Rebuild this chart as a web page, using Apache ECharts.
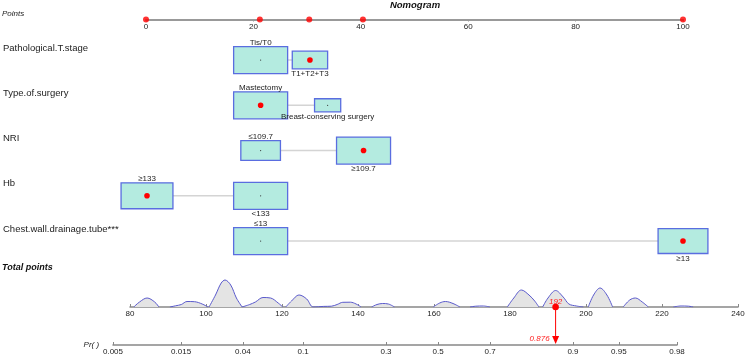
<!DOCTYPE html>
<html>
<head>
<meta charset="utf-8">
<script src="https://cdn.jsdelivr.net/npm/echarts@6/dist/echarts.min.js"></script>
<style>
html,body{margin:0;padding:0;background:#fff}
#chart{width:753px;height:357px}
</style>
</head>
<body>
<div id="chart"></div>
<script>
// variables of the nomogram, top to bottom
var rowNames = ['Pathological.T.stage', 'Type.of.surgery', 'NRI', 'Hb', 'Chest.wall.drainage.tube***'];
var levelNames = [
    ['Tis/T0', 'T1+T2+T3'],
    ['Mastectomy', 'Breast-conserving surgery'],
    ['≤109.7', '≥109.7'],
    ['≥133', '<133'],
    ['≤13', '≥13']
];
var levelPoints = [
    [21.2, 30.4],
    [21.2, 33.7],
    [21.2, 40.4],
    [0, 21.2],
    [21.2, 100]
];
// share of patients in each level (box size)
var levelShare = [
    [0.70, 0.30],
    [0.81, 0.19],
    [0.35, 0.65],
    [0.48, 0.52],
    [0.54, 0.46]
];
var selectedLevel = [1, 0, 1, 0, 1];   // the patient that is scored

var totalPoints = 192;
var predictedPr = 0.876;
var prTicks = [0.005, 0.015, 0.04, 0.1, 0.3, 0.5, 0.7, 0.9, 0.95, 0.98];

// distribution of total points (null = break)
var densityPts = [
    81, 82.5, 84.5, 86.5, 87.6, null,
    90.5, 92, 93.5, 95, 97, 99, 100.5, null,
    100.8, 102.5, 104, 105, 106.5, 108, 109.5, null,
    109.5, 111.5, 113, 115, 117, 119, 120.2, null,
    121, 122.5, 124.5, 126.5, 128.2, 131, 133, 134.5, 136, 138, 139.5, 140.8, null,
    143.6, 145, 146.5, 148, 149.6, null,
    159.8, 161.5, 163, 165, 166.8, null,
    169.5, 171, 173, 174.7, null,
    179.3, 181, 183, 185, 186.5, 187.6, null,
    188.6, 190, 192, 194, 195.5, 197.5, 199.3, null,
    200.6, 202, 203.7, 205.5, 207, null,
    209.8, 211.5, 213, 214.8, 216.4, null,
    223, 225, 227, 228.2
];
var densityHeight = [
    0, 5, 9, 5, 0, null,
    0, 1.2, 2.5, 5.5, 5.3, 3, 0, null,
    0, 12, 24, 27, 22, 9, 0, null,
    0, 2.5, 5, 9.5, 9, 4, 0, null,
    0, 6, 12, 8, 0, 0.6, 0.8, 2.5, 4.7, 4.8, 3, 0, null,
    0, 2.5, 3.5, 3, 0, null,
    0, 4, 5.5, 3.5, 0, null,
    0, 0.8, 1, 0, null,
    0, 9, 17, 12, 6, 0, null,
    0, 9, 16.5, 10, 3, 1, 0, null,
    0, 12, 19, 12, 0, null,
    0, 7, 9, 5, 0, null,
    0, 1, 0.8, 0
];

var FONT = 'Arial, "Liberation Sans", sans-serif';
var BOX_W = 54, BOX_H = 27;
var PR_AXIS_Y = 345;

function logit(p) { return Math.log(p / (1 - p)); }

var boxData = [];
var linkData = [];
var pickedPoints = [];
for (var r = 0; r < rowNames.length; r++) {
    var mx = Math.max.apply(null, levelShare[r]);
    for (var k = 0; k < levelNames[r].length; k++) {
        boxData.push({
            name: levelNames[r][k],
            value: [levelPoints[r][k], r, levelShare[r][k] / mx, k === selectedLevel[r] ? 1 : 0, k]
        });
    }
    linkData.push([Math.min.apply(null, levelPoints[r]), Math.max.apply(null, levelPoints[r]), r]);
    pickedPoints.push([levelPoints[r][selectedLevel[r]], 0]);
}

var densityData = densityPts.map(function (x, i) {
    return x === null ? '-' : [x, densityHeight[i]];
});

var myChart = echarts.init(document.getElementById('chart'));

var axisText = { fontSize: 8, color: '#222', fontFamily: FONT };

var option = {
    animation: false,
    title: [
        { text: 'Nomogram', left: 415, top: 0, textAlign: 'center', padding: 0,
          textStyle: { fontSize: 9.5, fontStyle: 'italic', fontWeight: 'bold', color: '#111', fontFamily: FONT } },
        { text: 'Points', left: 2, top: 10, padding: 0,
          textStyle: { fontSize: 8, fontStyle: 'italic', fontWeight: 'normal', color: '#222', fontFamily: FONT } },
        { text: 'Total points', left: 2, top: 263, padding: 0,
          textStyle: { fontSize: 9, fontStyle: 'italic', fontWeight: 'bold', color: '#111', fontFamily: FONT } }
    ],
    grid: [
        { left: 146, width: 537, top: 10, height: 9.5 },          // points scale
        { left: 146, width: 537, top: 37.4, height: 226.25 },     // variables
        { left: 130, width: 608, top: 277, height: 30 },          // total points
        { left: 113, width: 564, top: PR_AXIS_Y - 10, height: 10 } // probability
    ],
    xAxis: [
        { gridIndex: 0, type: 'value', min: 0, max: 100, interval: 20,
          axisLine: { lineStyle: { color: '#999', width: 2 } },
          axisTick: { length: 2, lineStyle: { color: '#999' } },
          axisLabel: Object.assign({ margin: 3 }, axisText),
          splitLine: { show: false } },
        { gridIndex: 1, type: 'value', min: 0, max: 100, show: false },
        { gridIndex: 2, type: 'value', min: 80, max: 240, interval: 20,
          axisLine: { onZero: false, lineStyle: { color: '#888', width: 1.5 } },
          axisTick: { inside: true, length: 3, lineStyle: { color: '#888' } },
          axisLabel: Object.assign({ margin: 3 }, axisText),
          splitLine: { show: false } },
        { gridIndex: 3, type: 'value', min: logit(prTicks[0]), max: logit(prTicks[prTicks.length - 1]),
          name: 'Pr( )', nameLocation: 'start', nameGap: -4,
          nameTextStyle: { fontSize: 8, fontStyle: 'italic', color: '#222', fontFamily: FONT, verticalAlign: 'middle' },
          axisLine: { onZero: false, lineStyle: { color: '#888', width: 1.5 } },
          axisTick: { inside: true, length: 3, lineStyle: { color: '#888' }, customValues: prTicks.map(logit) },
          axisLabel: Object.assign({
              margin: 3,
              customValues: prTicks.map(logit),
              formatter: function (v) {
                  var best = prTicks[0];
                  prTicks.forEach(function (p) { if (Math.abs(logit(p) - v) < Math.abs(logit(best) - v)) best = p; });
                  return String(best);
              }
          }, axisText),
          splitLine: { show: false } }
    ],
    yAxis: [
        { gridIndex: 0, type: 'value', min: 0, max: 1, show: false },
        { gridIndex: 1, type: 'category', data: rowNames, inverse: true,
          axisLine: { show: false }, axisTick: { show: false },
          axisLabel: { interval: 0, align: 'left', margin: 144, verticalAlign: 'bottom', padding: [0, 0, 7, 0],
                       fontSize: 9.5, color: '#222', fontFamily: FONT } },
        { gridIndex: 2, type: 'value', min: 0, max: 30, show: false },
        { gridIndex: 3, type: 'value', min: 0, max: 1, show: false }
    ],
    series: [
        {   // selected values on the points scale
            type: 'scatter', xAxisIndex: 0, yAxisIndex: 0, data: pickedPoints,
            symbolSize: 6, itemStyle: { color: '#ff0000' }, z: 5
        },
        {   // links between the levels of each variable
            type: 'custom', xAxisIndex: 1, yAxisIndex: 1, data: linkData, z: 2,
            renderItem: function (params, api) {
                var a = api.coord([api.value(0), api.value(2)]);
                var b = api.coord([api.value(1), api.value(2)]);
                return { type: 'line', shape: { x1: a[0], y1: a[1], x2: b[0], y2: b[1] },
                         style: { stroke: '#d4d4d4', lineWidth: 1.5 } };
            }
        },
        {   // level boxes
            type: 'custom', xAxisIndex: 1, yAxisIndex: 1, data: boxData, z: 3, clip: false,
            renderItem: function (params, api) {
                var c = api.coord([api.value(0), api.value(1)]);
                var s = Math.sqrt(api.value(2));
                var w = BOX_W * s, h = BOX_H * s;
                var sel = api.value(3) === 1;
                var above = api.value(4) === 0;
                return { type: 'group', children: [
                    { type: 'rect', shape: { x: c[0] - w / 2, y: c[1] - h / 2, width: w, height: h },
                      style: { fill: '#b4ebe0', stroke: '#5a6de0', lineWidth: 1.3 } },
                    { type: 'circle', shape: { cx: c[0], cy: c[1], r: sel ? 2.8 : 0.6 },
                      style: { fill: sel ? '#ff0000' : '#333' } },
                    { type: 'text', x: c[0], y: above ? c[1] - h / 2 : c[1] + h / 2 + 1,
                      style: { text: boxData[params.dataIndex].name, fill: '#222', fontSize: 8, fontFamily: FONT,
                               align: 'center', verticalAlign: above ? 'bottom' : 'top' } }
                ] };
            }
        },
        {   // distribution of total points
            type: 'line', xAxisIndex: 2, yAxisIndex: 2, data: densityData,
            smooth: 0.35, symbol: 'none', connectNulls: false,
            lineStyle: { color: '#5a5acc', width: 1 },
            areaStyle: { color: '#e4e4e4', opacity: 1 }, z: 2
        },
        {   // patient's total points and probability
            type: 'custom', xAxisIndex: 2, yAxisIndex: 2, data: [[totalPoints, 0]], z: 6, clip: false,
            renderItem: function (params, api) {
                var c = api.coord([api.value(0), api.value(1)]);
                var tip = PR_AXIS_Y - 1;
                return { type: 'group', children: [
                    { type: 'line', shape: { x1: c[0], y1: c[1], x2: c[0], y2: tip - 6 },
                      style: { stroke: '#ff0000', lineWidth: 1 } },
                    { type: 'polygon', shape: { points: [[c[0] - 3.5, tip - 8], [c[0] + 3.5, tip - 8], [c[0], tip]] },
                      style: { fill: '#ff0000' } },
                    { type: 'circle', shape: { cx: c[0], cy: c[1], r: 3.3 }, style: { fill: '#ff0000' } },
                    { type: 'text', x: c[0], y: c[1] - 1.5,
                      style: { text: String(totalPoints), fill: '#ff2020', fontSize: 8, fontStyle: 'italic',
                               fontFamily: FONT, align: 'center', verticalAlign: 'bottom' } },
                    { type: 'text', x: c[0] - 6, y: tip - 5,
                      style: { text: String(predictedPr), fill: '#ff2020', fontSize: 8, fontStyle: 'italic',
                               fontFamily: FONT, align: 'right', verticalAlign: 'middle' } }
                ] };
            }
        }
    ]
};

myChart.setOption(option);
</script>
</body>
</html>
